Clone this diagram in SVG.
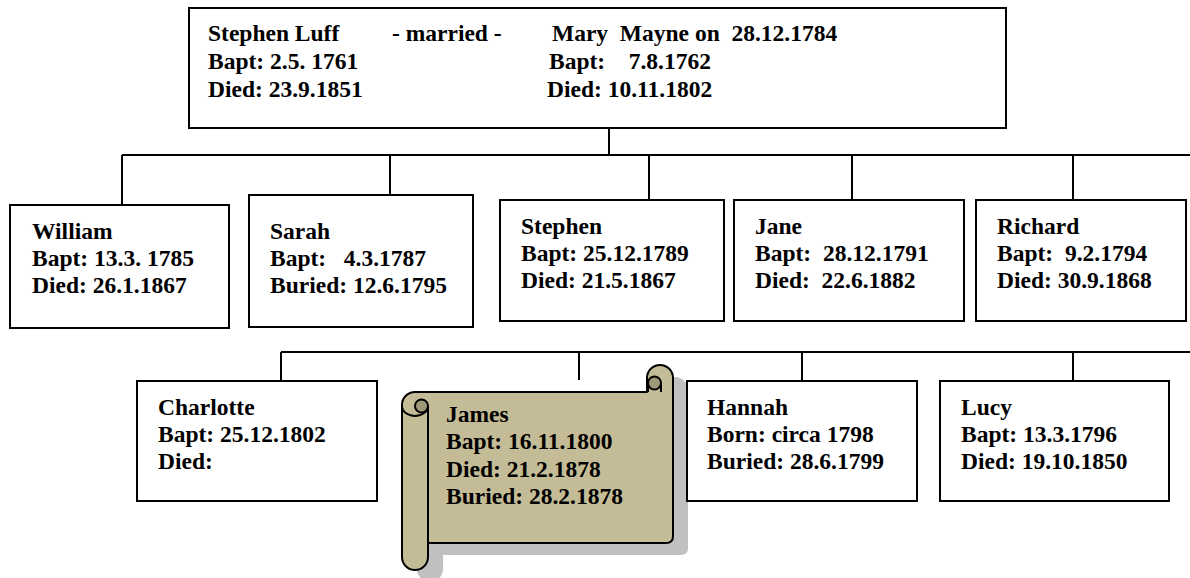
<svg xmlns="http://www.w3.org/2000/svg" width="1190" height="578" viewBox="0 0 1190 578">
<style>
.box{fill:#ffffff;stroke:#000000;stroke-width:2}
.ln{fill:none;stroke:#000000;stroke-width:2}
text{font-family:"Liberation Serif","Times New Roman",serif;font-weight:bold;font-size:23.5px;fill:#000000}
.scroll{fill:#c4bc96;stroke:#000000;stroke-width:2;stroke-linejoin:round}
.curl{fill:#9e9778;stroke:#000000;stroke-width:2}
.shadow{fill:#c0c0c0}
</style>
<rect width="1190" height="578" fill="#ffffff"/>
<g id="connectors">
<path class="ln" d="M609 128V155M122 155H1190M122 155V205M390 155V195M649 155V200M852 155V200M1073 155V200"/>
<path class="ln" d="M281 352H1190M281 352V380M579 352V380M802 352V380M1073 352V380"/>
</g>
<g id="parents">
<rect class="box" x="189" y="8" width="817" height="120"/>
<text x="208" y="41">Stephen Luff</text>
<text x="392" y="41">- married -</text>
<text x="552" y="41" xml:space="preserve">Mary  Mayne on  28.12.1784</text>
<text x="208" y="69">Bapt: 2.5. 1761</text>
<text x="549" y="69" xml:space="preserve">Bapt:    7.8.1762</text>
<text x="208" y="97">Died: 23.9.1851</text>
<text x="547" y="97">Died: 10.11.1802</text>
</g>
<g id="william">
<rect class="box" x="10" y="205" width="219" height="123"/>
<text x="32" y="239">William</text>
<text x="32" y="266">Bapt: 13.3. 1785</text>
<text x="32" y="293">Died: 26.1.1867</text>
</g>
<g id="sarah">
<rect class="box" x="249" y="195" width="224" height="132"/>
<text x="270" y="239">Sarah</text>
<text x="270" y="266" xml:space="preserve">Bapt:   4.3.1787</text>
<text x="270" y="293">Buried: 12.6.1795</text>
</g>
<g id="stephen">
<rect class="box" x="500" y="200" width="224" height="121"/>
<text x="521" y="234">Stephen</text>
<text x="521" y="261">Bapt: 25.12.1789</text>
<text x="521" y="288">Died: 21.5.1867</text>
</g>
<g id="jane">
<rect class="box" x="734" y="200" width="230" height="121"/>
<text x="755" y="234">Jane</text>
<text x="755" y="261" xml:space="preserve">Bapt:  28.12.1791</text>
<text x="755" y="288" xml:space="preserve">Died:  22.6.1882</text>
</g>
<g id="richard">
<rect class="box" x="976" y="200" width="210" height="121"/>
<text x="997" y="234">Richard</text>
<text x="997" y="261" xml:space="preserve">Bapt:  9.2.1794</text>
<text x="997" y="288">Died: 30.9.1868</text>
</g>
<g id="charlotte">
<rect class="box" x="137" y="381" width="240" height="120"/>
<text x="158" y="415">Charlotte</text>
<text x="158" y="442">Bapt: 25.12.1802</text>
<text x="158" y="469">Died:</text>
</g>
<g id="james">
<path class="shadow" transform="translate(15 12)" d="M402 405A13 13 0 0 1 415 392H647V378A13 13 0 0 1 673 378V536Q673 543 666 543H428V557A13 13 0 0 1 402 557Z"/>
<path class="scroll" d="M402 405A13 13 0 0 1 415 392H647V378A13 13 0 0 1 673 378V536Q673 543 666 543H428V557A13 13 0 0 1 402 557Z"/>
<path class="ln" d="M402 406A13 10 0 0 0 428 406"/>
<circle class="curl" cx="421.5" cy="406" r="6.5"/>
<path class="ln" d="M428 406V543"/>
<circle class="curl" cx="654.5" cy="383" r="6.5"/>
<path class="ln" d="M648 383V392M661 383V392"/>
<text x="446" y="422">James</text>
<text x="446" y="449">Bapt: 16.11.1800</text>
<text x="446" y="477">Died: 21.2.1878</text>
<text x="446" y="504">Buried: 28.2.1878</text>
</g>
<g id="hannah">
<rect class="box" x="687" y="381" width="230" height="120"/>
<text x="707" y="415">Hannah</text>
<text x="707" y="442">Born: circa 1798</text>
<text x="707" y="469">Buried: 28.6.1799</text>
</g>
<g id="lucy">
<rect class="box" x="940" y="381" width="229" height="120"/>
<text x="961" y="415">Lucy</text>
<text x="961" y="442">Bapt: 13.3.1796</text>
<text x="961" y="469">Died: 19.10.1850</text>
</g>
</svg>
